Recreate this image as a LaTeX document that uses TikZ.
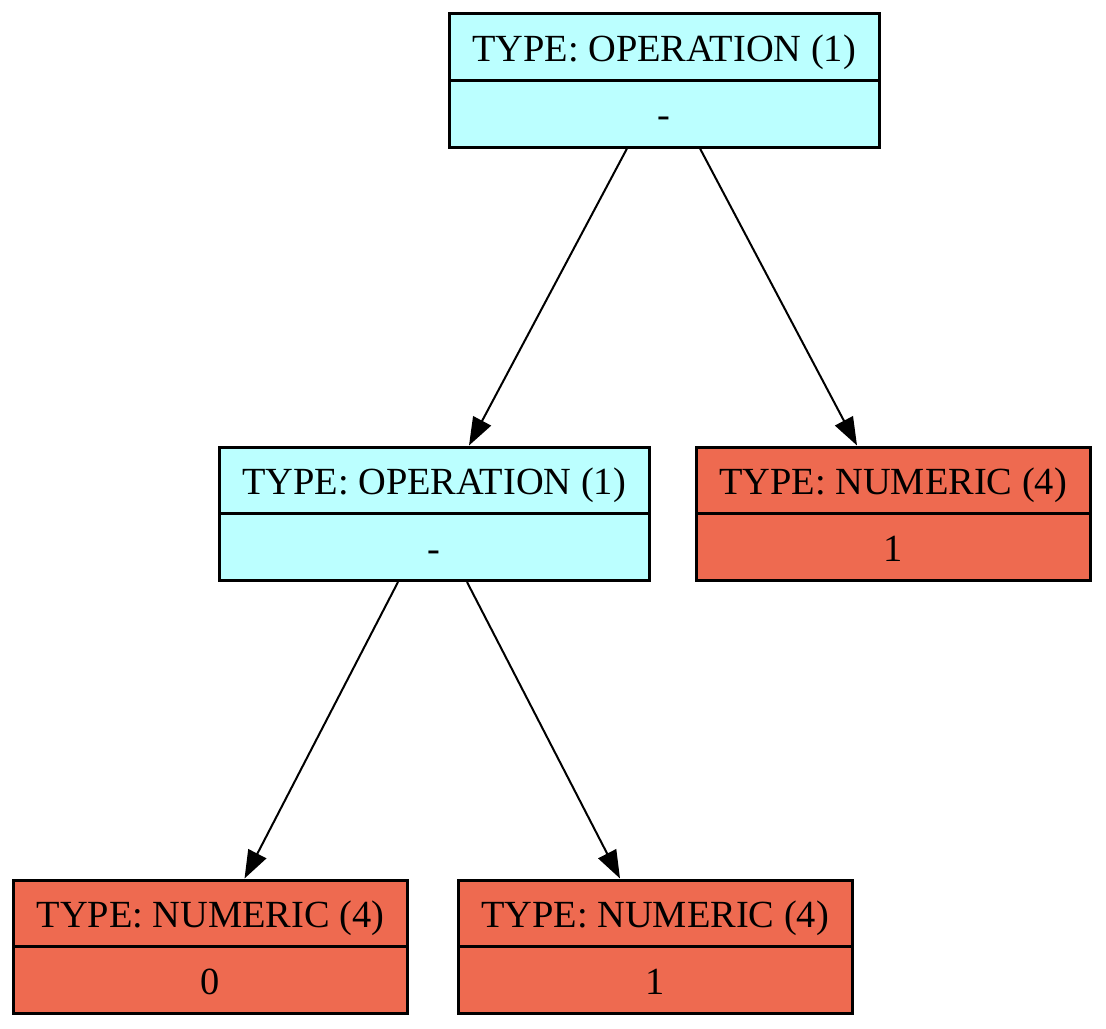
\documentclass[tikz,border=0pt]{standalone}
\usepackage{fontspec}
\setmainfont{Liberation Serif}
\usetikzlibrary{arrows.meta}
\definecolor{opfill}{HTML}{BBFFFF}
\definecolor{numfill}{HTML}{EE6A50}
\begin{document}
\begin{tikzpicture}[x=0.5pt,y=-0.5pt,
  cell/.style={draw=black, line width=1.5pt, minimum height=33.5pt, inner sep=0pt,
    text height=14pt, text depth=0pt,
    anchor=center, font=\fontsize{19.2}{22}\selectfont},
  opcell/.style={cell, fill=opfill, minimum width=215pt},
  numcell/.style={cell, fill=numfill, minimum width=197pt},
  link/.style={line width=1pt, -{Triangle[length=14pt,width=10pt]}}]
\useasboundingbox (0,0) rectangle (1106,1028);

% root operation
\node[opcell] (n1) at (664,47) {TYPE: OPERATION (1)};
\node[opcell] (n1v) at (664,113.5) {-};

% inner operation
\node[opcell] (n2) at (434,480.5) {TYPE: OPERATION (1)};
\node[opcell] (n2v) at (434,547) {-};

% numeric leaves
\node[numcell] (n3) at (893,480.5) {TYPE: NUMERIC (4)};
\node[numcell] (n3v) at (893,547) {1};

\node[numcell] (n4) at (210.5,913.5) {TYPE: NUMERIC (4)};
\node[numcell] (n4v) at (210.5,980) {0};

\node[numcell] (n5) at (655,913.5) {TYPE: NUMERIC (4)};
\node[numcell] (n5v) at (655,980) {1};

% edges
\draw[link] ([xshift=-18.5pt]n1v.south) -- ([xshift=17.5pt]n2.north);
\draw[link] ([xshift=18pt]n1v.south) -- ([xshift=-18pt]n3.north);
\draw[link] ([xshift=-18pt]n2v.south) -- ([xshift=17pt]n4.north);
\draw[link] ([xshift=16.5pt]n2v.south) -- ([xshift=-17.5pt]n5.north);
\end{tikzpicture}
\end{document}
